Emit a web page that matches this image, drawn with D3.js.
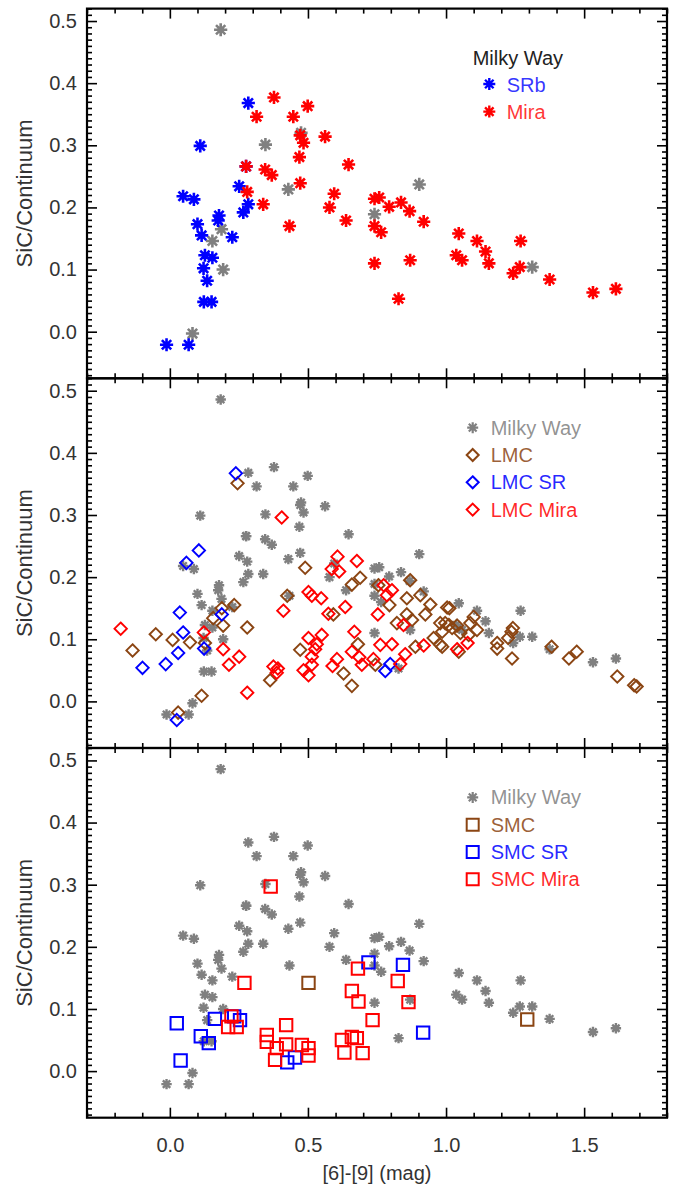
<!DOCTYPE html>
<html><head><meta charset="utf-8">
<script src="https://cdn.jsdelivr.net/npm/d3@7"></script>
<style>html,body{margin:0;padding:0;background:#fff}svg{display:block}</style>
</head><body>
<svg id="c" width="681" height="1186"></svg>
<script>
// ---------------- DATA ----------------
const xTicks = [0.0, 0.5, 1.0, 1.5];
const yTicks = [0.0, 0.1, 0.2, 0.3, 0.4, 0.5];

// Milky Way: unclassified (grey), SRb (blue), Mira (red)
const mwOther = [[0.184,0.486],[0.475,0.320],[0.346,0.301],[0.429,0.229],[0.187,0.165],[0.154,0.146],[0.193,0.100],[0.082,-0.003],[0.741,0.189],[0.903,0.237],[1.312,0.104]];
const mwSRb = [[0.284,0.368],[0.110,0.299],[0.276,0.266],[0.251,0.234],[0.048,0.218],[0.087,0.213],[0.284,0.205],[0.266,0.192],[0.178,0.187],[0.175,0.179],[0.100,0.173],[0.115,0.155],[0.226,0.152],[0.127,0.123],[0.154,0.119],[0.122,0.102],[0.135,0.082],[0.123,0.048],[0.151,0.048],[-0.012,-0.021],[0.068,-0.021]];
const mwMira = [[0.377,0.377],[0.499,0.363],[0.314,0.346],[0.447,0.346],[0.562,0.314],[0.472,0.316],[0.484,0.304],[0.469,0.281],[0.647,0.269],[0.276,0.266],[0.345,0.261],[0.369,0.252],[0.472,0.239],[0.280,0.225],[0.595,0.222],[0.338,0.205],[0.578,0.200],[0.638,0.179],[0.433,0.170],[0.741,0.214],[0.758,0.216],[0.741,0.170],[0.765,0.160],[0.741,0.110],[0.794,0.201],[0.837,0.208],[0.868,0.194],[0.919,0.177],[0.870,0.115],[0.828,0.053],[1.046,0.158],[1.112,0.146],[1.143,0.129],[1.155,0.110],[1.037,0.123],[1.058,0.115],[1.270,0.146],[1.243,0.094],[1.267,0.104],[1.375,0.084],[1.532,0.063],[1.615,0.069]];

// LMC
const lmcAll = [[0.245,0.351],[0.490,0.215],[0.689,0.199],[0.659,0.188],[0.425,0.170],[0.233,0.155],[0.188,0.150],[0.157,0.134],[0.193,0.122],[0.280,0.119],[0.592,0.140],[-0.051,0.108],[0.010,0.099],[0.073,0.095],[0.127,0.094],[-0.135,0.082],[0.472,0.083],[0.681,0.092],[0.363,0.034],[0.629,0.045],[0.659,0.025],[0.115,0.009],[0.030,-0.018],[0.744,0.059],[0.755,0.187],[0.870,0.195],[0.858,0.166],[0.907,0.171],[0.795,0.155],[0.943,0.156],[1.004,0.151],[1.012,0.150],[0.858,0.140],[0.925,0.140],[0.877,0.131],[0.822,0.126],[0.979,0.126],[0.997,0.126],[1.010,0.123],[1.022,0.118],[1.040,0.122],[0.986,0.112],[1.052,0.110],[1.088,0.126],[1.100,0.136],[1.112,0.115],[1.082,0.107],[0.955,0.102],[0.979,0.091],[0.986,0.088],[1.046,0.080],[0.889,0.088],[1.185,0.094],[1.185,0.085],[1.225,0.102],[1.242,0.118],[1.237,0.112],[1.239,0.069],[1.382,0.088],[1.445,0.069],[1.473,0.080],[1.620,0.040],[1.681,0.026],[1.690,0.024]];
const lmcSR = [[0.239,0.367],[0.105,0.243],[0.060,0.223],[0.036,0.143],[0.188,0.140],[0.048,0.111],[0.030,0.078],[0.124,0.085],[-0.015,0.060],[-0.099,0.054],[0.025,-0.030],[0.798,0.060],[0.780,0.049]];
const lmcMira = [[0.405,0.296],[0.607,0.233],[0.677,0.226],[0.586,0.213],[0.613,0.209],[0.502,0.176],[0.514,0.170],[0.548,0.166],[0.411,0.146],[0.635,0.152],[0.574,0.141],[0.753,0.140],[-0.178,0.117],[0.123,0.111],[0.668,0.112],[0.502,0.102],[0.550,0.107],[0.532,0.092],[0.526,0.084],[0.193,0.084],[0.251,0.072],[0.514,0.072],[0.214,0.059],[0.375,0.056],[0.391,0.053],[0.387,0.046],[0.484,0.050],[0.502,0.042],[0.514,0.059],[0.605,0.068],[0.589,0.057],[0.659,0.080],[0.686,0.071],[0.695,0.059],[0.737,0.068],[0.762,0.091],[0.280,0.014],[0.774,0.187],[0.804,0.179],[0.786,0.171],[0.846,0.123],[0.804,0.092],[0.852,0.076],[0.834,0.060],[0.919,0.090],[1.040,0.084],[1.078,0.094]];

// SMC
const smcAll = [[0.502,0.142],[1.294,0.083]];
const smcSR = [[0.719,0.175],[0.025,0.077],[0.163,0.084],[0.233,0.088],[0.254,0.082],[0.112,0.056],[0.141,0.045],[0.039,0.017],[0.453,0.022],[0.425,0.014],[0.844,0.171],[0.917,0.062]];
const smcMira = [[0.365,0.297],[0.270,0.142],[0.681,0.165],[0.659,0.129],[0.683,0.112],[0.734,0.082],[0.421,0.074],[0.223,0.088],[0.211,0.071],[0.242,0.071],[0.351,0.058],[0.351,0.047],[0.387,0.037],[0.381,0.018],[0.421,0.043],[0.478,0.042],[0.502,0.037],[0.502,0.025],[0.623,0.050],[0.659,0.055],[0.677,0.053],[0.632,0.030],[0.698,0.029],[0.825,0.145],[0.864,0.111]];

const mwAll = mwOther.concat(mwSRb, mwMira);

// ---------------- STYLE / LAYOUT ----------------
const GREY = "#808080", BLUE = "#0000ff", RED = "#ff0000", BROWN = "#8b4513";
const FONT = "'Liberation Sans', Arial, Helvetica, sans-serif";
const L = 87, R = 667, TOP = 8.6, PH = 369.7;

const svg = d3.select("#c");
const x = d3.scaleLinear().domain([-0.3, 1.8]).range([L, R]);

function starPath(s) {
  const d = s * Math.SQRT1_2;
  return `M${-s},0L${s},0M0,${-s}L0,${s}M${-d},${-d}L${d},${d}M${-d},${d}L${d},${-d}`;
}
function diamondPath(s) { return `M0,${-s}L${s},0L0,${s}L${-s},0Z`; }
function squarePath(s) { return `M${-s},${-s}L${s},${-s}L${s},${s}L${-s},${s}Z`; }

const panels = [
  { layers: [
      {data: mwOther, shape: "star", color: GREY, size: 6.6, sw: 2.6},
      {data: mwSRb, shape: "star", color: BLUE, size: 6.6, sw: 2.6},
      {data: mwMira, shape: "star", color: RED, size: 6.6, sw: 2.6}],
    legendTitle: "Milky Way",
    legend: [{label: "SRb", shape: "star", color: BLUE}, {label: "Mira", shape: "star", color: RED}] },
  { layers: [
      {data: mwAll, shape: "star", color: GREY, size: 5.2, sw: 2.4},
      {data: lmcAll, shape: "diamond", color: BROWN, size: 6.2, sw: 1.9},
      {data: lmcSR, shape: "diamond", color: BLUE, size: 6.2, sw: 1.9},
      {data: lmcMira, shape: "diamond", color: RED, size: 6.2, sw: 1.9}],
    legend: [{label: "Milky Way", shape: "star", color: GREY}, {label: "LMC", shape: "diamond", color: BROWN},
             {label: "LMC SR", shape: "diamond", color: BLUE}, {label: "LMC Mira", shape: "diamond", color: RED}] },
  { layers: [
      {data: mwAll, shape: "star", color: GREY, size: 5.2, sw: 2.4},
      {data: smcAll, shape: "square", color: BROWN, size: 6.2, sw: 2},
      {data: smcSR, shape: "square", color: BLUE, size: 6.2, sw: 2},
      {data: smcMira, shape: "square", color: RED, size: 6.2, sw: 2}],
    legend: [{label: "Milky Way", shape: "star", color: GREY}, {label: "SMC", shape: "square", color: BROWN},
             {label: "SMC SR", shape: "square", color: BLUE}, {label: "SMC Mira", shape: "square", color: RED}] }
];

function shapeD(shape, s) {
  return shape === "star" ? starPath(s) : shape === "diamond" ? diamondPath(s) : squarePath(s);
}

const xMinor = d3.range(-3, 19).map(i => i / 10).filter(v => !xTicks.some(t => Math.abs(t - v) < 1e-6));
const yMinor = d3.range(-7, 53).map(i => i / 100).filter(v => !yTicks.some(t => Math.abs(t - v) < 1e-6));

panels.forEach((p, i) => {
  const top = TOP + i * PH, bot = top + PH;
  const y = d3.scaleLinear().domain([-0.075, 0.52]).range([bot, top]);
  const g = svg.append("g");

  // marks
  const clip = "clip" + i;
  svg.append("clipPath").attr("id", clip).append("rect").attr("x", L).attr("y", top).attr("width", R - L).attr("height", PH);
  const mg = g.append("g").attr("clip-path", `url(#${clip})`);
  p.layers.forEach(ly => {
    mg.append("g").selectAll("path").data(ly.data).join("path")
      .attr("transform", d => `translate(${x(d[0])},${y(d[1])})`)
      .attr("d", shapeD(ly.shape, ly.size))
      .attr("fill", "none").attr("stroke", ly.color).attr("stroke-width", ly.sw)
      .attr("stroke-linecap", "butt");
  });

  // axes (inward ticks on all four sides)
  const ax = (gen, tx, ty) => {
    const a = g.append("g").attr("transform", `translate(${tx},${ty})`).call(gen);
    a.select(".domain").remove();
    a.selectAll("line").attr("stroke", "#000").attr("stroke-width", 1.6);
    a.selectAll("text").attr("font-family", FONT).attr("font-size", 20).attr("fill", "#333");
    return a;
  };
  ax(d3.axisBottom(x).tickValues(xTicks).tickSize(-10).tickPadding(20).tickFormat(i === 2 ? d3.format(".1f") : ""), 0, bot);
  ax(d3.axisBottom(x).tickValues(xMinor).tickSize(-5).tickFormat(""), 0, bot);
  ax(d3.axisTop(x).tickValues(xTicks).tickSize(-10).tickFormat(""), 0, top);
  ax(d3.axisTop(x).tickValues(xMinor).tickSize(-5).tickFormat(""), 0, top);
  ax(d3.axisLeft(y).tickValues(yTicks).tickSize(-10).tickPadding(10).tickFormat(d3.format(".1f")), L, 0);
  ax(d3.axisLeft(y).tickValues(yMinor).tickSize(-5).tickFormat(""), L, 0);
  ax(d3.axisRight(y).tickValues(yTicks).tickSize(-10).tickFormat(""), R, 0);
  ax(d3.axisRight(y).tickValues(yMinor).tickSize(-5).tickFormat(""), R, 0);

  g.append("rect").attr("x", L).attr("y", top).attr("width", R - L).attr("height", PH)
    .attr("fill", "none").attr("stroke", "#000").attr("stroke-width", 2.2);

  // y label
  g.append("text").attr("transform", `translate(32,${(top + bot) / 2}) rotate(-90)`)
    .attr("text-anchor", "middle").attr("font-family", FONT).attr("font-size", 22).attr("fill", "#333")
    .text("SiC/Continuum");

  // legend
  const lg = g.append("g");
  if (p.legendTitle) {
    lg.append("text").attr("x", 472.7).attr("y", top + 56.4).attr("font-family", FONT).attr("font-size", 20)
      .attr("fill", "#222").text(p.legendTitle);
    p.legend.forEach((e, k) => {
      const cy = top + 75.4 + k * 27.6;
      lg.append("path").attr("transform", `translate(489.3,${cy})`).attr("d", shapeD(e.shape, 6))
        .attr("fill", "none").attr("stroke", e.color).attr("stroke-width", 2.4);
      lg.append("text").attr("x", 506.7).attr("y", cy + 7.5).attr("font-family", FONT).attr("font-size", 20)
        .attr("fill", e.color).attr("fill-opacity", 0.8).text(e.label);
    });
  } else {
    p.legend.forEach((e, k) => {
      const cy = top + 49.4 + k * 27.3;
      lg.append("path").attr("transform", `translate(472.7,${cy})`).attr("d", shapeD(e.shape, e.shape === "star" ? 5.5 : 6))
        .attr("fill", "none").attr("stroke", e.color).attr("stroke-width", e.shape === "star" ? 2.2 : 2);
      lg.append("text").attr("x", 490.7).attr("y", cy + 7).attr("font-family", FONT).attr("font-size", 20)
        .attr("fill", e.color).attr("fill-opacity", 0.85).text(e.label);
    });
  }
});

// x label
svg.append("text").attr("x", (L + R) / 2).attr("y", 1180).attr("text-anchor", "middle")
  .attr("font-family", FONT).attr("font-size", 20).attr("fill", "#333").text("[6]-[9] (mag)");
</script>
</body></html>
